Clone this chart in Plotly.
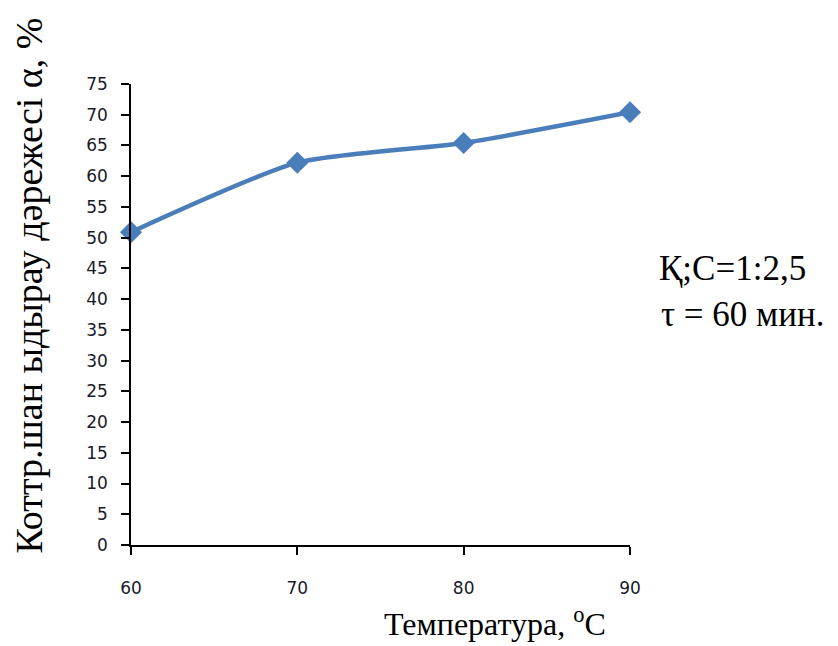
import plotly.graph_objects as go

# Temperature (°C) and decomposition degree α (%)
temperature = [60, 70, 80, 90]
alpha = [50.9, 62.2, 65.4, 70.4]

y_ticks = list(range(0, 80, 5))
x_ticks = [60, 70, 80, 90]

blue = "#4A7EBB"
serif = "Liberation Serif"
sans = "DejaVu Sans"
tick_color = "#1a1a2a"

fig = go.Figure()
fig.add_trace(go.Scatter(
    x=temperature, y=alpha,
    mode="lines+markers",
    line=dict(color=blue, width=4.5, shape="spline", smoothing=0.6),
    marker=dict(symbol="diamond", size=17, color=blue),
    cliponaxis=False,
    showlegend=False,
))

axis_common = dict(
    showgrid=False, zeroline=False,
    showline=True, linecolor="black", linewidth=1.5,
    ticks="outside", ticklen=8, tickwidth=1.5, tickcolor="black",
    tickfont=dict(family=sans, size=17, color=tick_color),
)


def label(text, x, y, size, **kw):
    return dict(text=text, xref="paper", yref="paper", x=x, y=y,
                showarrow=False, font=dict(family=serif, size=size, color="black"), **kw)


fig.update_layout(
    width=838, height=646,
    margin=dict(l=131, r=208, t=84, b=101),
    paper_bgcolor="white", plot_bgcolor="white",
    font=dict(family=serif, color="black"),
    xaxis=dict(range=[60, 90], tickvals=x_ticks, ticklabelstandoff=19, **axis_common),
    yaxis=dict(range=[0, 75], tickvals=y_ticks, ticklabelstandoff=10, **axis_common),
    annotations=[
        label("Температура, <sup>o</sup>C", 0.956, -0.168, 32, xanchor="right", yanchor="middle"),
        label("Коттр.шан ыдырау дәрежесі α, %", -0.205, 0.562, 38,
              xanchor="center", yanchor="middle", textangle=-90),
        label("Қ;С=1:2,5", 1.055, 0.599, 35, xanchor="left", yanchor="middle"),
        label("τ = 60 мин.", 1.058, 0.501, 35, xanchor="left", yanchor="middle"),
    ],
)

fig.write_html("out.html")
